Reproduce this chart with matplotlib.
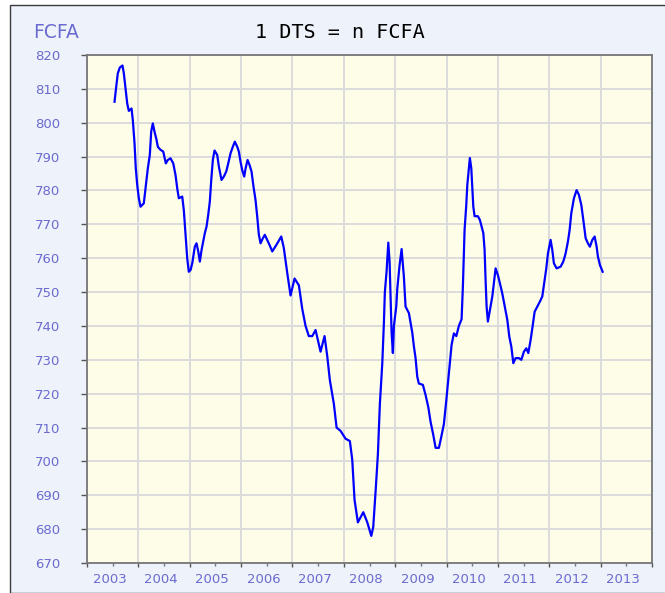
import matplotlib
matplotlib.use("Agg")
import matplotlib.pyplot as plt
from matplotlib.patches import Rectangle
from matplotlib.transforms import ScaledTranslation

# Decimal years and exchange-rate values (1 DTS in FCFA)
years = [
    2003.536, 2003.549, 2003.574, 2003.600, 2003.639, 2003.691, 2003.717, 2003.750,
    2003.783, 2003.814, 2003.867, 2003.892, 2003.925, 2003.950, 2003.978, 2004.009,
    2004.042, 2004.106, 2004.139, 2004.184, 2004.223, 2004.250, 2004.281, 2004.314,
    2004.353, 2004.379, 2004.431, 2004.484, 2004.535, 2004.573, 2004.626, 2004.679,
    2004.723, 2004.757, 2004.788, 2004.854, 2004.885, 2004.918, 2004.951, 2004.982,
    2005.016, 2005.049, 2005.099, 2005.132, 2005.166, 2005.197, 2005.230, 2005.263,
    2005.294, 2005.327, 2005.360, 2005.391, 2005.419, 2005.450, 2005.483, 2005.535,
    2005.567, 2005.619, 2005.664, 2005.711, 2005.750, 2005.795, 2005.839, 2005.878,
    2005.925, 2005.956, 2005.989, 2006.022, 2006.061, 2006.087, 2006.126, 2006.165,
    2006.203, 2006.242, 2006.281, 2006.314, 2006.346, 2006.379, 2006.424, 2006.462,
    2006.509, 2006.554, 2006.607, 2006.690, 2006.782, 2006.832, 2006.899, 2006.963,
    2007.041, 2007.125, 2007.191, 2007.255, 2007.319, 2007.386, 2007.450, 2007.547,
    2007.625, 2007.678, 2007.728, 2007.806, 2007.859, 2007.937, 2008.034, 2008.118,
    2008.164, 2008.209, 2008.274, 2008.379, 2008.457, 2008.535, 2008.573, 2008.618,
    2008.663, 2008.702, 2008.749, 2008.780, 2008.799, 2008.832, 2008.866, 2008.891,
    2008.910, 2008.930, 2008.955, 2008.975, 2009.021, 2009.041, 2009.086, 2009.125,
    2009.169, 2009.202, 2009.267, 2009.333, 2009.364, 2009.397, 2009.430, 2009.461,
    2009.539, 2009.592, 2009.645, 2009.689, 2009.742, 2009.787, 2009.851, 2009.898,
    2009.948, 2009.995, 2010.046, 2010.098, 2010.143, 2010.190, 2010.240, 2010.293,
    2010.318, 2010.351, 2010.384, 2010.404, 2010.435, 2010.454, 2010.482, 2010.501,
    2010.521, 2010.546, 2010.610, 2010.649, 2010.716, 2010.741, 2010.760, 2010.780,
    2010.805, 2010.844, 2010.891, 2010.922, 2010.955, 2011.000, 2011.039, 2011.085,
    2011.130, 2011.183, 2011.222, 2011.261, 2011.300, 2011.345, 2011.409, 2011.456,
    2011.506, 2011.553, 2011.592, 2011.637, 2011.670, 2011.715, 2011.767, 2011.818,
    2011.864, 2011.909, 2011.942, 2011.974, 2012.026, 2012.059, 2012.090, 2012.143,
    2012.221, 2012.273, 2012.318, 2012.363, 2012.396, 2012.429, 2012.480, 2012.532,
    2012.577, 2012.624, 2012.663, 2012.708, 2012.752, 2012.791, 2012.838, 2012.883,
    2012.922, 2012.947, 2012.986, 2013.039,
]
values = [
    806.2, 808.0, 811.3, 814.6, 816.3, 816.9, 814.6, 810.0,
    805.7, 803.5, 804.2, 800.8, 794.0, 786.5, 781.6, 777.7,
    775.2, 776.2, 780.6, 786.5, 790.5, 797.4, 799.8, 797.4,
    795.0, 792.9, 792.0, 791.5, 788.0, 789.0, 789.5, 788.0,
    784.6, 780.6, 777.7, 778.2, 774.2, 766.9, 760.0, 756.0,
    756.5, 758.5, 763.4, 764.4, 762.0, 759.0, 762.4, 764.9,
    767.4, 769.3, 772.8, 776.7, 783.1, 789.0, 791.8, 790.5,
    787.1, 783.1, 784.1, 785.6, 788.0, 791.0, 792.9, 794.4,
    792.9, 791.5, 788.5, 786.0, 784.1, 786.5, 789.0, 787.5,
    785.6, 781.1, 777.2, 772.3, 766.9, 764.4, 765.9, 766.9,
    765.4, 763.9, 762.0, 764.0, 766.4, 763.0, 755.6, 749.0,
    754.0, 752.0, 745.0, 740.0, 737.0, 737.0, 738.8, 732.4,
    737.0, 731.0, 724.0, 717.0, 710.0, 709.0, 706.7, 706.0,
    700.5, 688.6, 682.0, 685.0, 682.0, 678.0, 680.7, 691.0,
    702.0, 717.0, 729.0, 740.8, 750.0, 756.0, 764.6, 759.0,
    748.7, 738.0, 732.0, 740.0, 745.7, 751.0, 758.0, 762.7,
    754.6, 745.7, 743.8, 738.0, 734.0, 730.5, 725.0, 723.0,
    722.6, 719.6, 716.0, 711.7, 707.8, 704.0, 704.0, 707.3,
    711.0, 718.0, 726.0, 734.4, 737.8, 737.0, 740.0, 742.0,
    751.6, 768.3, 775.7, 781.6, 786.5, 789.6, 786.5, 781.1,
    775.2, 772.4, 772.4, 771.3, 767.4, 762.4, 753.6, 745.7,
    741.3, 744.7, 748.7, 752.6, 757.0, 755.0, 752.6, 749.6,
    746.0, 741.8, 736.8, 733.9, 729.0, 730.5, 730.5, 730.0,
    732.4, 733.4, 732.0, 735.9, 739.3, 744.2, 745.7, 747.2,
    748.7, 753.6, 757.0, 761.4, 765.4, 762.4, 758.5, 757.0,
    757.5, 759.0, 761.4, 764.9, 768.3, 773.3, 777.7, 780.1,
    778.7, 775.7, 771.3, 765.9, 764.4, 763.4, 765.4, 766.4,
    763.4, 760.5, 758.0, 756.0,
]

y_ticks = list(range(670, 821, 10))
x_ticks = list(range(2003, 2015))
x_labels = [str(y) for y in range(2003, 2014)] + [""]
minor_x = [y + 0.5 for y in range(2003, 2014)]

title = "1 DTS = n FCFA"
unit = "FCFA"

W, H = 665, 593
fig = plt.figure(figsize=(W / 100, H / 100), dpi=100, facecolor="white")

# outer panel with frame
panel = Rectangle((10 / W, 0), 1.0, 1 - 5 / H, transform=fig.transFigure,
                  facecolor="#EEF2FB", edgecolor="#3a3a3a", linewidth=1.0, zorder=-5)
fig.patches.append(panel)

left, right, top, bottom = 87, 652, 55, 563
ax = fig.add_axes([left / W, 1 - bottom / H, (right - left) / W, (bottom - top) / H])
ax.set_zorder(2)
ax.set_facecolor("#FEFDE8")

ax.plot(years, values, color="#0000FF", linewidth=1.6, zorder=3)

ax.set_xlim(2003, 2014)
ax.set_ylim(670, 820)
ax.set_yticks(y_ticks)
ax.set_xticks(x_ticks)
ax.set_xticklabels(x_labels)
ax.set_xticks(minor_x, minor=True)

ax.grid(True, which="major", color="#DCDCDC", linewidth=1.4, zorder=1)
for s in ax.spines.values():
    s.set_color("#777777")
    s.set_linewidth(1.3)

lab_col = "#6B6BCF"
ax.tick_params(axis="y", which="major", direction="out", length=4, width=1,
               color="#555555", labelcolor=lab_col, labelsize=9.5, pad=15)
ax.tick_params(axis="x", which="major", direction="out", length=3, width=1,
               color="#555555", labelcolor=lab_col, labelsize=9.5, pad=4)
ax.tick_params(axis="x", which="minor", direction="out", length=2, width=1,
               color="#777777")

offset = ScaledTranslation(22.4 / 100, 0, fig.dpi_scale_trans)
for lbl in ax.get_xticklabels():
    lbl.set_transform(lbl.get_transform() + offset)

fig.text(33 / W, 1 - 32 / H, unit, color=lab_col, fontsize=13.5,
         ha="left", va="center", fontfamily="DejaVu Sans", zorder=3)
fig.text(340 / W, 1 - 32 / H, title, color="black", fontsize=14.5,
         ha="center", va="center", fontfamily="DejaVu Sans Mono", zorder=3)

fig.savefig("out.png", dpi=100, facecolor=fig.get_facecolor())
